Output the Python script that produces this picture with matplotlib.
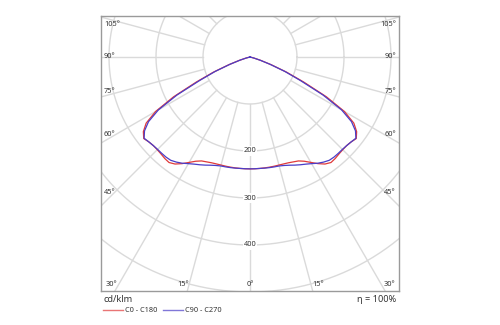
import numpy as np
import matplotlib
matplotlib.use("Agg")
import matplotlib.pyplot as plt
from matplotlib.lines import Line2D

plt.rcParams["font.family"] = ["Noto Sans", "DejaVu Sans"]

# ---- data (cd/klm vs angle from nadir, degrees) ----
angles = [0, 2.5, 5, 7.5, 10, 12.5, 15, 17.5, 20, 22.5, 25, 27.5, 30, 32.5, 35,
          37.5, 40, 42.5, 45, 47.5, 50, 52.5, 55, 57.5, 60, 62.5, 65, 67.5, 70,
          72.5, 75, 80, 90, 180]
c0_c180 = [238, 238, 238, 238, 238, 238, 238, 238.5, 239.5, 241.5, 244, 250, 259,
           269, 278, 283, 282, 280, 279, 279, 281, 285, 277, 262, 232, 183, 126,
           84, 48, 24, 9, 0, 0, 0]
c90_c270 = [238, 238, 238, 238.5, 239, 239.5, 240, 242, 245, 249, 253, 257, 262,
            268, 273, 277, 278, 278, 278, 279, 281, 284, 274, 256, 225, 175, 118,
            80, 45, 22, 8, 0, 0, 0]
series_names = ["C0 - C180", "C90 - C270"]
series_colors = ["#e03a3a", "#4a3ec8"]
ring_values = [100, 200, 300, 400, 500, 600]
ring_labels = [200, 300, 400]
side_angles = [105, 90, 75, 60, 45]
bottom_angles = [30, 15, 0, 15, 30]

W, H = 500, 325
fig = plt.figure(figsize=(W / 100, H / 100), dpi=100)
# axes box in pixels: x 101..399, y 16..291 ; centre at (250, 57), 0.47 px per cd/klm
px = 0.47
L, R, T, B = 101, 399, 16, 291
cx, cy = 250, 57
ax = fig.add_axes([L / W, 1 - B / H, (R - L) / W, (B - T) / H])
ax.set_xlim((L - cx) / px, (R - cx) / px)
ax.set_ylim(-(B - cy) / px, (cy - T) / px)
ax.set_xticks([])
ax.set_yticks([])
for s in ax.spines.values():
    s.set_color("#9a9a9a")
    s.set_linewidth(1.0)

grid_c = "#dadada"
t = np.linspace(0, 2 * np.pi, 721)
for r in ring_values:
    ax.plot(r * np.cos(t), r * np.sin(t), color=grid_c, lw=1.0, zorder=1)
for a in range(0, 360, 15):
    th = np.deg2rad(a)
    ax.plot([100 * np.sin(th), 1000 * np.sin(th)],
            [-100 * np.cos(th), -1000 * np.cos(th)], color=grid_c, lw=1.0, zorder=1)

# curves (mirror each half profile)
ang = np.array(angles, dtype=float)
for vals, col in zip([c0_c180, c90_c270], series_colors):
    v = np.array(vals, dtype=float)
    full_a = np.concatenate([-ang[::-1], ang[1:]])
    full_r = np.concatenate([v[::-1], v[1:]])
    th = np.deg2rad(full_a)
    ax.plot(full_r * np.sin(th), -full_r * np.cos(th), color=col, lw=0.9, zorder=3)

txt_c = "#333333"
fs_small = 5.3
for r in ring_labels:
    ax.text(0, -r, str(r), ha="center", va="center", fontsize=fs_small, color=txt_c,
            bbox=dict(facecolor="white", edgecolor="none", pad=0.8), zorder=4)

# angle labels (pixel layout)
side_y = [24, 57, 92, 134, 192]
for a, y in zip(side_angles, side_y):
    fig.text(104 / W, 1 - y / H, f"{a}°", ha="left", va="center", fontsize=fs_small, color=txt_c)
    fig.text(396 / W, 1 - y / H, f"{a}°", ha="right", va="center", fontsize=fs_small, color=txt_c)
bottom_x = [111, 183, 250, 318, 389]
for a, x in zip(bottom_angles, bottom_x):
    fig.text(x / W, 1 - 284 / H, f"{a}°", ha="center", va="center", fontsize=fs_small, color=txt_c)

# legend / footer
fig.text(103 / W, 1 - 300 / H, "cd/klm", ha="left", va="center", fontsize=6.6, color=txt_c)
fig.text(396 / W, 1 - 300 / H, "η = 100%", ha="right", va="center", fontsize=6.6, color=txt_c)
leg_x = [(103, 123, 125), (163, 183, 185)]
for (x0, x1, xt), name, col in zip(leg_x, series_names, series_colors):
    fig.add_artist(Line2D([x0 / W, x1 / W], [1 - 310 / H, 1 - 310 / H], color=col,
                          lw=1.0, alpha=0.7, transform=fig.transFigure))
    fig.text(xt / W, 1 - 310 / H, name, ha="left", va="center", fontsize=fs_small, color=txt_c)

fig.savefig("out.png", dpi=100)
